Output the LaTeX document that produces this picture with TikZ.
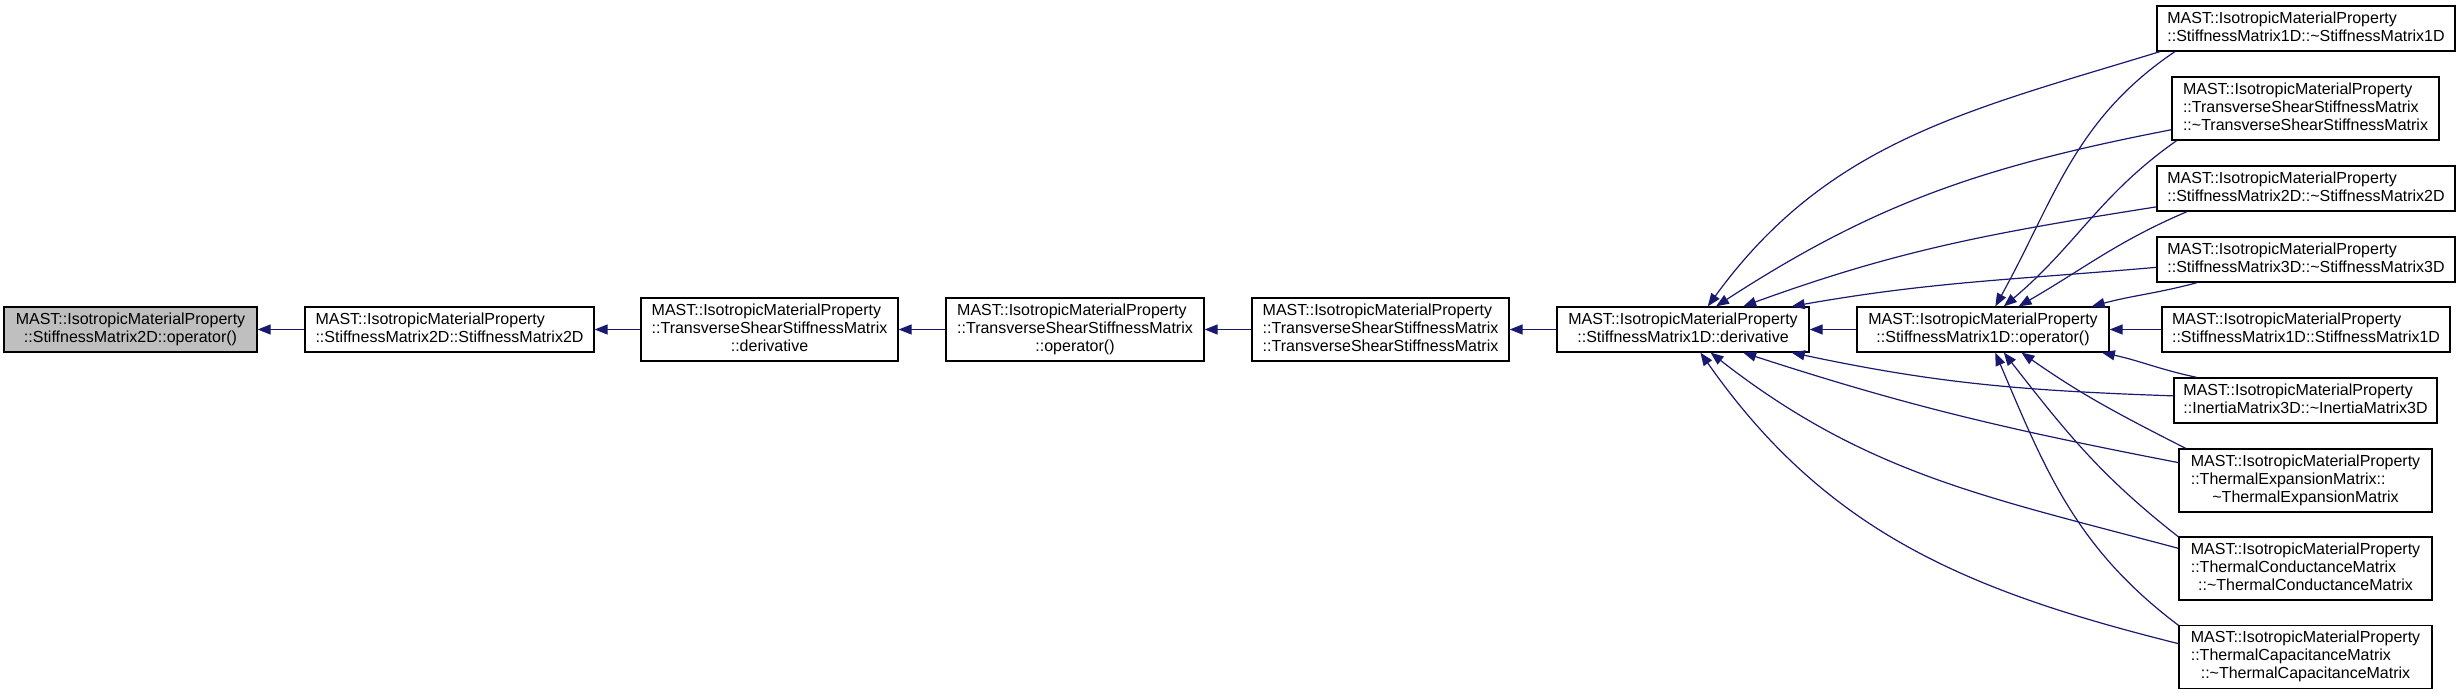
\documentclass[tikz,border=0pt]{standalone}
\usepackage{fontspec}
\setmainfont{Liberation Sans}
\usetikzlibrary{arrows.meta}
\definecolor{edgeblue}{RGB}{25,25,112}
\newcommand{\fnlabel}[2]{\begin{tabular}{@{}l@{}}#1\\\multicolumn{1}{@{}c@{}}{#2}\end{tabular}}

\begin{document}
\begin{tikzpicture}[
  x=0.5pt, y=0.5pt,
  font=\fontsize{8}{9}\selectfont,
  fn/.style={draw, line width=0.6pt, inner sep=0pt, minimum height=22.5pt},
  fn3/.style={fn, minimum height=31.5pt},
  cur/.style={fn, fill=black!25},
  call/.style={-{Triangle[length=6.5pt,width=5pt]}, edgeblue, line width=0.6pt}
]
\useasboundingbox (0,0) rectangle (2460,694);

% chain
\node[cur, minimum width=126.5pt] (op2d) at (130.5,364.5) {\fnlabel{MAST::IsotropicMaterialProperty}{::StiffnessMatrix2D::operator()}};
\node[fn, minimum width=144.5pt] (ctor2d) at (449.5,364.5) {\fnlabel{MAST::IsotropicMaterialProperty}{::StiffnessMatrix2D::StiffnessMatrix2D}};
\node[fn3, minimum width=128.5pt] (tsderiv) at (769.5,364.5) {\fnlabel{MAST::IsotropicMaterialProperty\\::TransverseShearStiffnessMatrix}{::derivative}};
\node[fn3, minimum width=129pt] (tsop) at (1075,364.5) {\fnlabel{MAST::IsotropicMaterialProperty\\::TransverseShearStiffnessMatrix}{::operator()}};
\node[fn3, minimum width=128.5pt] (tsctor) at (1380.5,364.5) {\fnlabel{MAST::IsotropicMaterialProperty\\::TransverseShearStiffnessMatrix}{::TransverseShearStiffnessMatrix}};
\node[fn, minimum width=126pt] (deriv1d) at (1683,364.5) {\fnlabel{MAST::IsotropicMaterialProperty}{::StiffnessMatrix1D::derivative}};
\node[fn, minimum width=126pt] (op1d) at (1983,364.5) {\fnlabel{MAST::IsotropicMaterialProperty}{::StiffnessMatrix1D::operator()}};

% callers on the right
\node[fn, minimum width=149pt] (dtor1d) at (2306,665.5) {\fnlabel{MAST::IsotropicMaterialProperty}{::StiffnessMatrix1D::\textasciitilde StiffnessMatrix1D}};
\node[fn3, minimum width=133.5pt] (dtorts) at (2305.5,585.5) {\fnlabel{MAST::IsotropicMaterialProperty\\::TransverseShearStiffnessMatrix}{::\textasciitilde TransverseShearStiffnessMatrix}};
\node[fn, minimum width=149pt] (dtor2d) at (2306,505.5) {\fnlabel{MAST::IsotropicMaterialProperty}{::StiffnessMatrix2D::\textasciitilde StiffnessMatrix2D}};
\node[fn, minimum width=149pt] (dtor3d) at (2306,434.5) {\fnlabel{MAST::IsotropicMaterialProperty}{::StiffnessMatrix3D::\textasciitilde StiffnessMatrix3D}};
\node[fn, minimum width=144pt] (ctor1d) at (2306,364.5) {\fnlabel{MAST::IsotropicMaterialProperty}{::StiffnessMatrix1D::StiffnessMatrix1D}};
\node[fn, minimum width=131.5pt] (dtorin) at (2305.5,293.5) {\fnlabel{MAST::IsotropicMaterialProperty}{::InertiaMatrix3D::\textasciitilde InertiaMatrix3D}};
\node[fn3, minimum width=126.5pt] (dtorexp) at (2305.5,213.5) {\fnlabel{MAST::IsotropicMaterialProperty\\::ThermalExpansionMatrix::}{\textasciitilde ThermalExpansionMatrix}};
\node[fn3, minimum width=126.5pt] (dtorcond) at (2305.5,125.5) {\fnlabel{MAST::IsotropicMaterialProperty\\::ThermalConductanceMatrix}{::\textasciitilde ThermalConductanceMatrix}};
\node[fn3, minimum width=126.5pt] (dtorcap) at (2305.5,37) {\fnlabel{MAST::IsotropicMaterialProperty\\::ThermalCapacitanceMatrix}{::\textasciitilde ThermalCapacitanceMatrix}};

% straight calls
\draw[call] (ctor2d.west) -- (op2d.east);
\draw[call] (tsderiv.west) -- (ctor2d.east);
\draw[call] (tsop.west) -- (tsderiv.east);
\draw[call] (tsctor.west) -- (tsop.east);
\draw[call] (deriv1d.west) -- (tsctor.east);
\draw[call] (op1d.west) -- (deriv1d.east);
\draw[call] (ctor1d.west) -- (op1d.east);

% upper callers
\draw[call] (dtor1d.189) to[out=197,in=54] (deriv1d.43);
\draw[call] (dtor1d.190) to[out=214,in=61] (op1d.62);
\draw[call] (dtorts.189) to[out=191,in=33] (deriv1d.35);
\draw[call] (dtorts.194) to[out=215,in=40] (op1d.48);
\draw[call] (dtor2d.187) to[out=189,in=20] (deriv1d.21);
\draw[call] (dtor2d.191) to[out=203,in=30] (op1d.33);
\draw[call] (dtor3d.183) to[out=185,in=10] (deriv1d.12);
\draw[call] (dtor3d.192) to[out=195,in=15] (op1d.12);

% lower callers
\draw[call] (dtorin.178) to[out=178,in=-12] (deriv1d.348);
\draw[call] (dtorin.168) to[out=168,in=-12] (op1d.349);
\draw[call] (dtorexp.172) to[out=169,in=-18] (deriv1d.339);
\draw[call] (dtorexp.165) to[out=153,in=-35] (op1d.329);
\draw[call] (dtorcond.171) to[out=165,in=-38] (deriv1d.320);
\draw[call] (dtorcond.166) to[out=142,in=-52] (op1d.312);
\draw[call] (dtorcap.174) to[out=166,in=-55] (deriv1d.307);
\draw[call] (dtorcap.166) to[out=143,in=-67] (op1d.298);

\end{tikzpicture}
\end{document}
